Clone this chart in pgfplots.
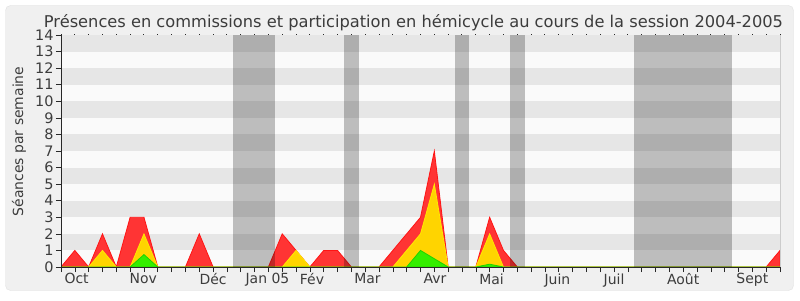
\documentclass[border=0pt]{standalone}
\usepackage{fontspec}
\setmainfont{DejaVu Sans}
\usepackage{pgfplots}
\pgfplotsset{compat=1.18}
\definecolor{outerbg}{RGB}{240,240,240}
\definecolor{outerbd}{RGB}{225,225,225}
\definecolor{stripeA}{RGB}{230,230,230}
\definecolor{stripeB}{RGB}{250,250,250}
\definecolor{redfill}{RGB}{255,52,52}
\definecolor{redline}{RGB}{255,20,20}
\definecolor{yelfill}{RGB}{255,212,0}
\definecolor{yelline}{RGB}{255,232,0}
\definecolor{grnfill}{RGB}{52,238,0}
\definecolor{grnline}{RGB}{30,210,0}
\definecolor{txt}{RGB}{60,60,60}
\definecolor{axcol}{RGB}{40,40,40}
\begin{document}
\begin{tikzpicture}[x=1bp,y=1bp]
\useasboundingbox (0,0) rectangle (800,300);
\fill[white] (0,0) rectangle (800,300);
\draw[fill=outerbg, draw=outerbd, rounded corners=5bp] (5.5,9.5) rectangle (793.5,294.5);
\node[txt, font=\fontsize{16.3}{18}\selectfont, anchor=base] at (413.5,273) {Présences en commissions et participation en hémicycle au cours de la session 2004-2005};
\node[txt, font=\fontsize{14}{16}\selectfont, rotate=90, anchor=base] at (23,158.5) {Séances par semaine};
\begin{axis}[
  at={(61bp,33bp)}, anchor=south west,
  scale only axis, width=719bp, height=232bp,
  xmin=0, xmax=52, ymin=0, ymax=14,
  axis x line*=bottom, axis y line*=left,
  axis line style={axcol, line width=0.8pt, -},
  axis on top,
  axis background/.style={fill=stripeB},
  xtick={0,...,52}, xticklabels={},
  ytick={0,...,14},
  tick align=outside, major tick length=5bp,
  tick style={axcol, line width=0.6pt},
  yticklabel style={txt, font=\fontsize{14.5}{16}\selectfont, xshift=1bp},
  /pgf/number format/assume math mode=true,
  extra x ticks={1.13,5.95,11,14.93,18.15,22.16,27.04,31.14,35.9,40,45,50},
  extra x tick labels={Oct,Nov,Déc,Jan 05,Fév,Mar,Avr,Mai,Juin,Juil,Août,Sept},
  extra x tick style={major tick length=0pt, tick label style={txt, font=\fontsize{14}{16}\selectfont, yshift=-3bp}},
  clip=true,
]
\fill[stripeA] (axis cs:0,1) rectangle (axis cs:52,2);
\fill[stripeA] (axis cs:0,3) rectangle (axis cs:52,4);
\fill[stripeA] (axis cs:0,5) rectangle (axis cs:52,6);
\fill[stripeA] (axis cs:0,7) rectangle (axis cs:52,8);
\fill[stripeA] (axis cs:0,9) rectangle (axis cs:52,10);
\fill[stripeA] (axis cs:0,11) rectangle (axis cs:52,12);
\fill[stripeA] (axis cs:0,13) rectangle (axis cs:52,14);
\addplot[fill=redfill, draw=redline, line width=0.8pt] table {
x y
0 0
1 1
2 0
3 2
4 0
5 3
6 3
7 0
8 0
9 0
10 2
11 0
12 0
13 0
14 0
15 0
16 2
17 1
18 0
19 1
20 1
21 0
22 0
23 0
24 1
25 2
26 3
27 7
28 0
29 0
30 0
31 3
32 1
33 0
34 0
35 0
36 0
37 0
38 0
39 0
40 0
41 0
42 0
43 0
44 0
45 0
46 0
47 0
48 0
49 0
50 0
51 0
52 1
} \closedcycle;
\addplot[fill=yelfill, draw=yelline, line width=0.8pt] table {
x y
0 0
1 0
2 0
3 1
4 0
5 0
6 2
7 0
8 0
9 0
10 0
11 0
12 0
13 0
14 0
15 0
16 0
17 1
18 0
19 0
20 0
21 0
22 0
23 0
24 0
25 1
26 2
27 5
28 0
29 0
30 0
31 2
32 0
33 0
34 0
35 0
36 0
37 0
38 0
39 0
40 0
41 0
42 0
43 0
44 0
45 0
46 0
47 0
48 0
49 0
50 0
51 0
52 0
} \closedcycle;
\addplot[fill=grnfill, draw=grnline, line width=0.8pt] table {
x y
0 0
1 0
2 0
3 0
4 0
5 0
6 0.75
7 0
8 0
9 0
10 0
11 0
12 0
13 0
14 0
15 0
16 0
17 0
18 0
19 0
20 0
21 0
22 0
23 0
24 0
25 0
26 1
27 0.5
28 0
29 0
30 0
31 0.17
32 0
33 0
34 0
35 0
36 0
37 0
38 0
39 0
40 0
41 0
42 0
43 0
44 0
45 0
46 0
47 0
48 0
49 0
50 0
51 0
52 0
} \closedcycle;
\fill[black, opacity=0.245] (axis cs:12.45,0) rectangle (axis cs:15.5,14);
\fill[black, opacity=0.245] (axis cs:20.5,0) rectangle (axis cs:21.55,14);
\fill[black, opacity=0.245] (axis cs:28.5,0) rectangle (axis cs:29.5,14);
\fill[black, opacity=0.245] (axis cs:32.5,0) rectangle (axis cs:33.55,14);
\fill[black, opacity=0.245] (axis cs:41.43,0) rectangle (axis cs:48.5,14);
\end{axis}
\draw[black!20, line width=0.6pt] (780.3,33) -- (780.3,265);
\foreach \i in {0,...,52} \fill[axcol] ({60.5+\i*13.8269},265.3) rectangle +(1,1);
\end{tikzpicture}
\end{document}
